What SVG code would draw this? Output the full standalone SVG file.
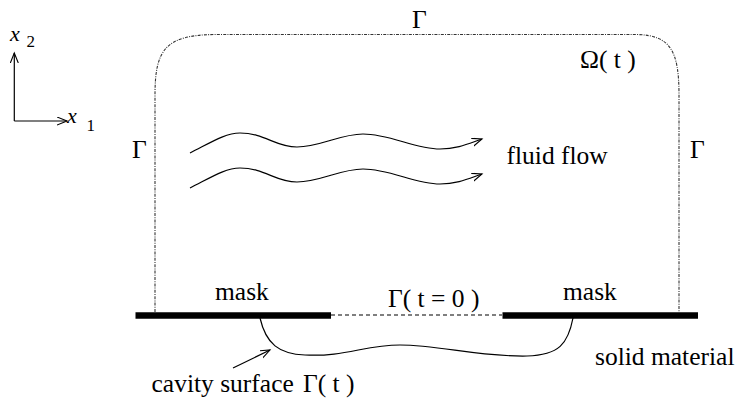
<svg xmlns="http://www.w3.org/2000/svg" width="735" height="398" viewBox="0 0 735 398">
<defs>
<marker id="arr" markerWidth="12" markerHeight="10" refX="10" refY="4" orient="auto" markerUnits="userSpaceOnUse">
<path d="M0,0 L10,4 L0,8" fill="none" stroke="#000" stroke-width="1.1"/>
</marker>
</defs>
<style>
text{font-family:"Liberation Serif","Times New Roman",serif;fill:#000;}
.lbl{font-size:25.5px;}
.it{font-style:italic;font-size:22px;}
.sub{font-size:17px;}
.ln{fill:none;stroke:#000;stroke-width:1.2;}
.bnd{fill:none;stroke:#333;stroke-width:1.1;stroke-dasharray:3 1.2 1 1.2;}
.bar{stroke:#000;stroke-width:6.5;}
</style>
<rect width="735" height="398" fill="#fff"/>
<g id="axes">
<path class="ln" d="M14.3,121 L14.3,53" marker-end="url(#arr)"/>
<path class="ln" d="M14.3,121 L67,121" marker-end="url(#arr)"/>
<text class="it" x="10" y="40.7">x</text><text class="sub" x="26.5" y="47.3">2</text>
<text class="it" x="67" y="123.3">x</text><text class="sub" x="86.5" y="130.7">1</text>
</g>
<g id="domain">
<path class="bnd" d="M155,312 L155,95 C155,50 165,35 215,34.5 L637,34.5 C670,35.5 679,50 679,95 L679,312"/>
<text class="lbl" x="412" y="27.7">Γ</text>
<text class="lbl" x="580" y="68.3">Ω( t )</text>
<text class="lbl" x="132" y="158">Γ</text>
<text class="lbl" x="690" y="158">Γ</text>
</g>
<g id="masks">
<line class="bar" x1="135.5" y1="315.5" x2="331" y2="315.5"/>
<line class="bar" x1="502.5" y1="315.5" x2="698" y2="315.5"/>
<line x1="331" y1="315" x2="502" y2="315" stroke="#000" stroke-width="1.1" stroke-dasharray="4 3"/>
<text class="lbl" x="215" y="300">mask</text>
<text class="lbl" x="563" y="300">mask</text>
<text class="lbl" x="388" y="306.7">Γ( t = 0 )</text>
</g>
<g id="cavity">
<path class="ln" d="M260,318 C266,344 279,354 305,355 C345,357 365,345 400,345 C440,345 478,357 527,356 C559,355 568,344 573,318"/>
<text class="lbl" x="151.5" y="391.7">cavity surface</text>
<text class="lbl" x="303" y="391.7">Γ( t )</text>
<text class="lbl" x="595" y="365">solid material</text>
</g>
<g id="flow">
<text class="lbl" x="506.5" y="164.3">fluid flow</text>
</g>
<g id="connectors">
<path class="ln" d="M190,153 C210,143 225,133 240,133 C265,133 275,147 297,147 C320,147 340,134 363,134 C390,134 415,149 440,149 C458,149 470,143 482,139" marker-end="url(#arr)"/>
<path class="ln" d="M190,188 C210,178 225,168 240,168 C265,168 275,182 297,182 C320,182 340,169 363,169 C390,169 415,184 440,184 C458,184 470,178 482,174" marker-end="url(#arr)"/>
<path class="ln" d="M233,368 L270,350" marker-end="url(#arr)"/>
</g>
</svg>
